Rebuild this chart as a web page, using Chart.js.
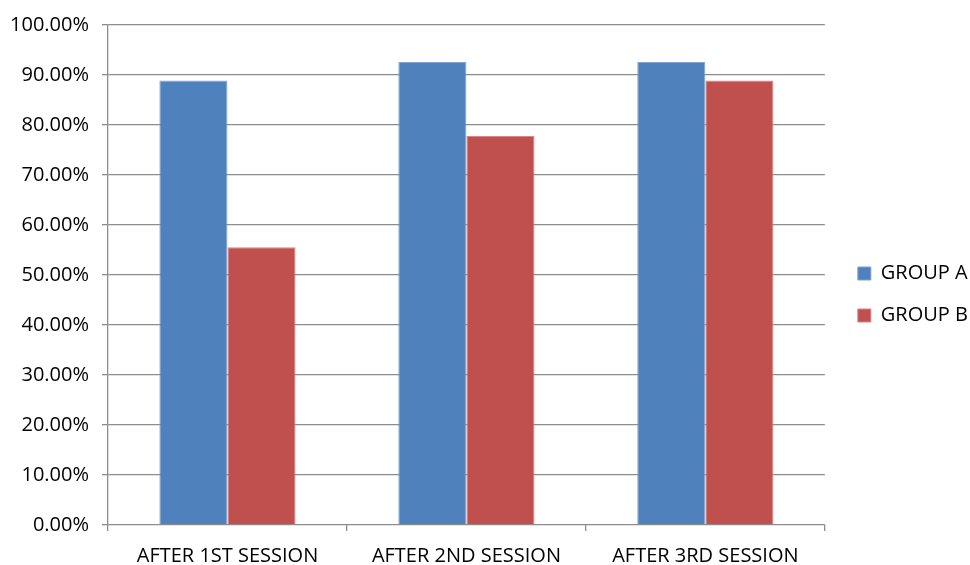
<!DOCTYPE html>
<html>
<head>
<meta charset="utf-8">
<script src="https://cdn.jsdelivr.net/npm/chart.js@4/dist/chart.umd.min.js"></script>
<style>
  html, body { margin: 0; padding: 0; background: #fff; }
  #wrap { width: 970px; height: 565px; }
</style>
</head>
<body>
<div id="wrap"><canvas id="myChart" width="970" height="565"></canvas></div>
<script>
// sessions along the x axis
let sessions = ["AFTER 1ST SESSION", "AFTER 2ND SESSION", "AFTER 3RD SESSION"];
// percent of each group per session
let groupA = [88.89, 92.59, 92.59];
let groupB = [55.56, 77.78, 88.89];
// y axis ticks, percent
let yTicks = [0, 10, 20, 30, 40, 50, 60, 70, 80, 90, 100];

let gridColor = '#8c8c8c';
let fontFamily = "'Open Sans', 'Liberation Sans', sans-serif";

Chart.defaults.font.family = fontFamily;
Chart.defaults.color = '#000';

var ctx = document.getElementById('myChart');
var chart = new Chart(ctx, {
    type: 'bar',
    data: {
        labels: sessions,
        datasets: [{
            label: "GROUP A",
            data: groupA,
            backgroundColor: '#4f81bd',
            borderColor: '#7fa3d3',
            borderWidth: 1,
            categoryPercentage: 0.57,
            barPercentage: 1
        }, {
            label: "GROUP B",
            data: groupB,
            backgroundColor: '#c0504d',
            borderColor: '#d88583',
            borderWidth: 1,
            categoryPercentage: 0.57,
            barPercentage: 1
        }]
    },
    options: {
        responsive: false,
        animation: false,
        layout: { padding: { top: 24, left: 0, right: -8, bottom: 0 } },
        plugins: {
            tooltip: { enabled: false },
            legend: {
                position: 'right',
                labels: {
                    boxWidth: 13,
                    boxHeight: 13,
                    padding: 22,
                    font: { size: 20 },
                    color: '#000'
                }
            }
        },
        scales: {
            x: {
                grid: {
                    offset: true,
                    drawOnChartArea: false,
                    color: gridColor,
                    lineWidth: 1.3,
                    tickLength: 6
                },
                border: { display: false },
                ticks: { font: { size: 20 }, padding: 13, maxRotation: 0 },
                afterFit: function(s) { s.height = 40; }
            },
            y: {
                min: 0,
                max: 100,
                afterBuildTicks: function(s) {
                    s.ticks = yTicks.map(function(v) { return { value: v }; });
                },
                grid: { color: gridColor, lineWidth: 1.3, tickLength: 6 },
                border: { color: gridColor, width: 1.3 },
                ticks: {
                    font: { size: 20 },
                    padding: 13,
                    callback: function(v) { return v.toFixed(2) + '%'; }
                },
                afterFit: function(s) { s.width = 108; }
            },
            // empty scale that keeps a gap between the plot and the legend
            gap: {
                position: 'right',
                display: true,
                grid: { display: false },
                border: { display: false },
                ticks: { display: false },
                afterFit: function(s) { s.width = 11; }
            }
        }
    }
});
</script>
</body>
</html>
